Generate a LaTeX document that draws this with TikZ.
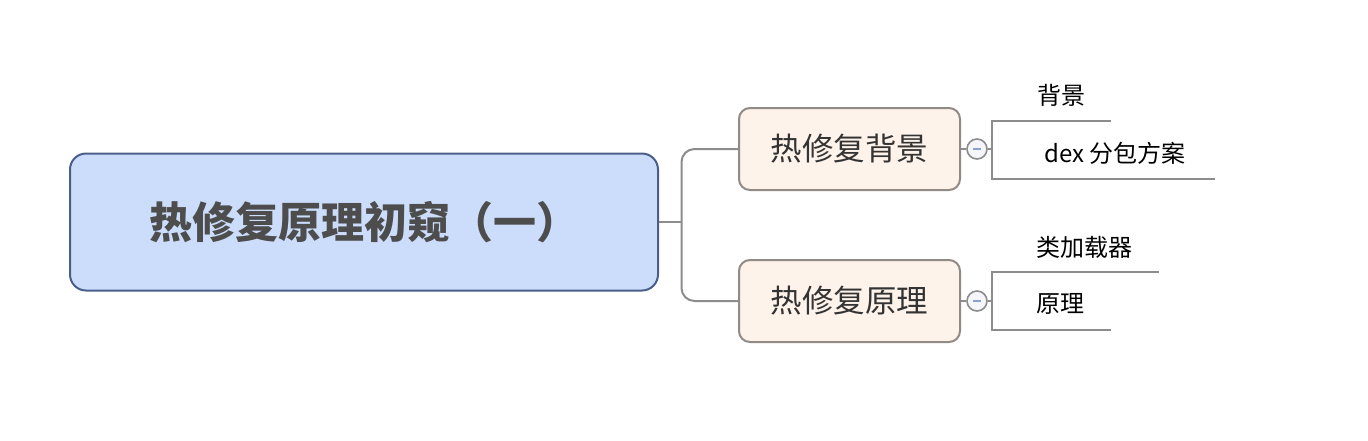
\documentclass[tikz,border=0pt]{standalone}
\usepackage{fontspec}
\setmainfont{Noto Sans CJK SC}
\definecolor{rootfill}{HTML}{CCDDFB}
\definecolor{rootdraw}{HTML}{4A5E8A}
\definecolor{roottext}{HTML}{4D4D4D}
\definecolor{brfill}{HTML}{FDF3EA}
\definecolor{brdraw}{HTML}{928A85}
\definecolor{brtext}{HTML}{333333}
\definecolor{conn}{HTML}{8C8C8C}
\definecolor{circfill}{HTML}{F4F6FA}
\definecolor{minus}{HTML}{8CA0D0}
\tikzset{
  rootbox/.style={draw=rootdraw, fill=rootfill, line width=2pt, rounded corners=16pt,
    minimum width=588pt, minimum height=137pt, inner sep=0pt,
    text=roottext, font=\fontsize{43}{50}\selectfont\bfseries},
  branchbox/.style={draw=brdraw, fill=brfill, line width=2pt, rounded corners=11pt,
    minimum width=221pt, minimum height=82pt, inner sep=0pt,
    text=brtext, font=\fontsize{31.5}{37}\selectfont},
  collapse/.style={circle, draw=conn, fill=circfill, line width=1.6pt, minimum size=20pt, inner sep=0pt},
  subtext/.style={anchor=west, inner sep=0pt, text=black, font=\fontsize{24}{28}\selectfont},
  connline/.style={draw=conn, line width=2pt},
}
\begin{document}
\begin{tikzpicture}[x=1pt,y=-1pt]
\useasboundingbox (0,0) rectangle (1368,440);
% main nodes
\node[rootbox] (root) at (364,222) {热修复原理初窥（一）};
\node[branchbox] (b1) at (849.5,149) {热修复背景};
\node[branchbox] (b2) at (849.5,301) {热修复原理};
% connectors root -> branches
\coordinate (j) at (681.5,222);
\draw[connline] (root.east) -- (j);
\draw[connline, rounded corners=13pt] (b1.west) -| (j) |- (b2.west);
% collapse circles
\node[collapse] (c1) at (977,149) {};
\node[collapse] (c2) at (977,301) {};
\draw[draw=minus, line width=1.6pt] ([xshift=-4pt]c1.center) -- ([xshift=4pt]c1.center);
\draw[draw=minus, line width=1.6pt] ([xshift=-4pt]c2.center) -- ([xshift=4pt]c2.center);
\draw[connline] (b1.east) -- (c1.west);
\draw[connline] (b2.east) -- (c2.west);
% sub topics of b1
\coordinate (k1) at (991.5,149);
\coordinate (k1t) at (991.5,120.5);
\coordinate (k1b) at (991.5,178.5);
\coordinate (e11) at (1111,120.5);
\coordinate (e12) at (1215,178.5);
\node[subtext] (s11) at (1037,95) {背景};
\node[subtext] (s12) at (1044,153) {dex 分包方案};
\draw[connline] (c1.east) -- (k1);
\draw[connline] (e11) -- (k1t) -- (k1b) -- (e12);
% sub topics of b2
\coordinate (k2) at (991.5,301);
\coordinate (k2t) at (991.5,271.5);
\coordinate (k2b) at (991.5,329.5);
\coordinate (e21) at (1159,271.5);
\coordinate (e22) at (1111,329.5);
\node[subtext] (s21) at (1036,247) {类加载器};
\node[subtext] (s22) at (1036,304) {原理};
\draw[connline] (c2.east) -- (k2);
\draw[connline] (e21) -- (k2t) -- (k2b) -- (e22);
\end{tikzpicture}
\end{document}
